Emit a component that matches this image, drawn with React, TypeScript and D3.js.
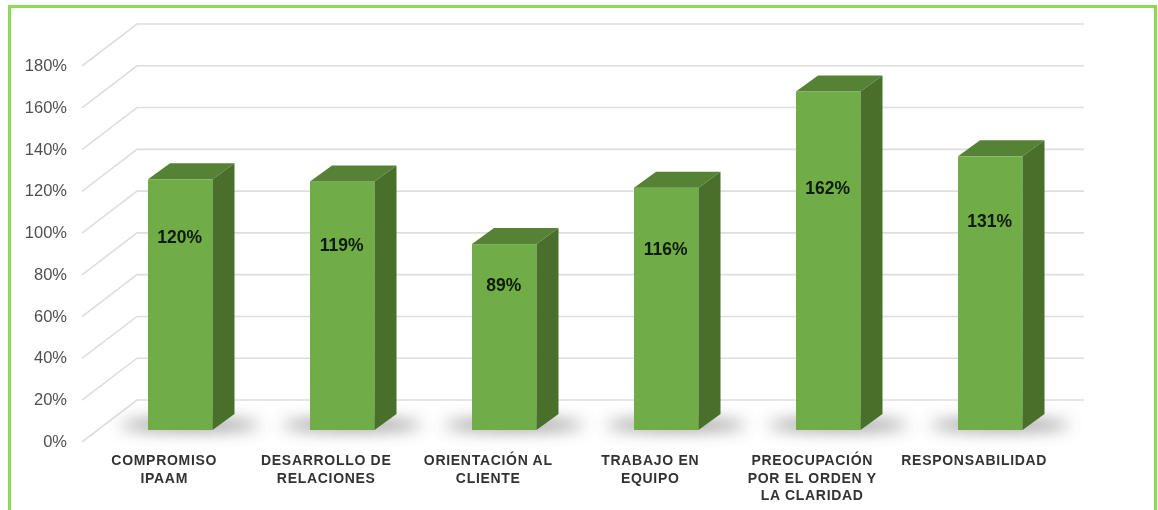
import React from "react";
import * as d3 from "d3";

const categories = [
  ["COMPROMISO", "IPAAM"],
  ["DESARROLLO DE", "RELACIONES"],
  ["ORIENTACIÓN AL", "CLIENTE"],
  ["TRABAJO EN", "EQUIPO"],
  ["PREOCUPACIÓN", "POR EL ORDEN Y", "LA CLARIDAD"],
  ["RESPONSABILIDAD"],
];
const values = [120, 119, 89, 116, 162, 131];
const labelLevels = [92.5, 88.5, 69.5, 86.5, 116, 100];
const ticks = [0, 20, 40, 60, 80, 100, 120, 140, 160, 180];

const W = 1158, H = 510;
const font = "'Liberation Sans', Arial, sans-serif";

export default function App() {
  const barW = 64.5;
  const yBar = d3.scaleLinear().domain([0, 180]).range([430, 54]);
  const yFront = d3.scaleLinear().domain([0, 180]).range([442, 66]);
  const yBack = d3.scaleLinear().domain([0, 180]).range([400, 24]);
  const dx = 22, dy = 16;
  const xPos = d3.scaleLinear().domain([0, 5]).range([148, 958]);
  const line = d3.line();
  return (
    <svg width={W} height={H} viewBox={`0 0 ${W} ${H}`}
      style={{ position: "absolute", left: 0, top: 0, display: "block", background: "#fff" }}>
      <defs>
        <filter id="soft" x="-5%" y="-5%" width="110%" height="110%"><feGaussianBlur stdDeviation="0.5" /></filter>
        <filter id="shadow" x="-40%" y="-200%" width="180%" height="500%"><feGaussianBlur stdDeviation="8" /></filter>
      </defs>
      <path d="M9.5 510V6.5H1155.5V510" fill="none" stroke="#8fd851" strokeWidth="3" />
      <g filter="url(#soft)">
        {ticks.map((t) => (
          <g key={t}>
            <path d={line([[82, yFront(t)], [137, yBack(t)], [1084, yBack(t)]]) ?? ""} fill="none" stroke="#dedede" strokeWidth="1.6" />
            <text x={67} y={yFront(t) + 5} textAnchor="end" fontFamily={font} fontSize="16.5" fill="#505050">{t}%</text>
          </g>
        ))}
        {values.map((v, i) => {
          const bx = xPos(i);
          const top = yBar(v), base = yBar(0);
          const labelCx = bx + barW / 2 - 16;
          return (
            <g key={i}>
              <ellipse cx={bx + 42} cy={base - 5} rx={70} ry={6} fill="#808080" opacity={0.85} filter="url(#shadow)" />
              <rect x={bx} y={top} width={barW} height={base - top} fill="#70ad47" />
              <path d={line([[bx, top], [bx + dx, top - dy], [bx + barW + dx, top - dy], [bx + barW, top]]) + "Z"} fill="#548235" />
              <path d={line([[bx + barW, top], [bx + barW + dx, top - dy], [bx + barW + dx, base - dy], [bx + barW, base]]) + "Z"} fill="#49702c" />
              <text x={bx + barW / 2 - 0.5} y={yBar(labelLevels[i]) + 6} textAnchor="middle" fontFamily={font} fontWeight="bold" fontSize="17.5" fill="#0e1a08">{v}%</text>
              {categories[i].map((ln, j) => (
                <text key={j} x={labelCx} y={465 + j * 17.5} textAnchor="middle" fontFamily={font} fontWeight="bold" fontSize="14" letterSpacing="0.7" fill="#333">{ln}</text>
              ))}
            </g>
          );
        })}
      </g>
    </svg>
  );
}
